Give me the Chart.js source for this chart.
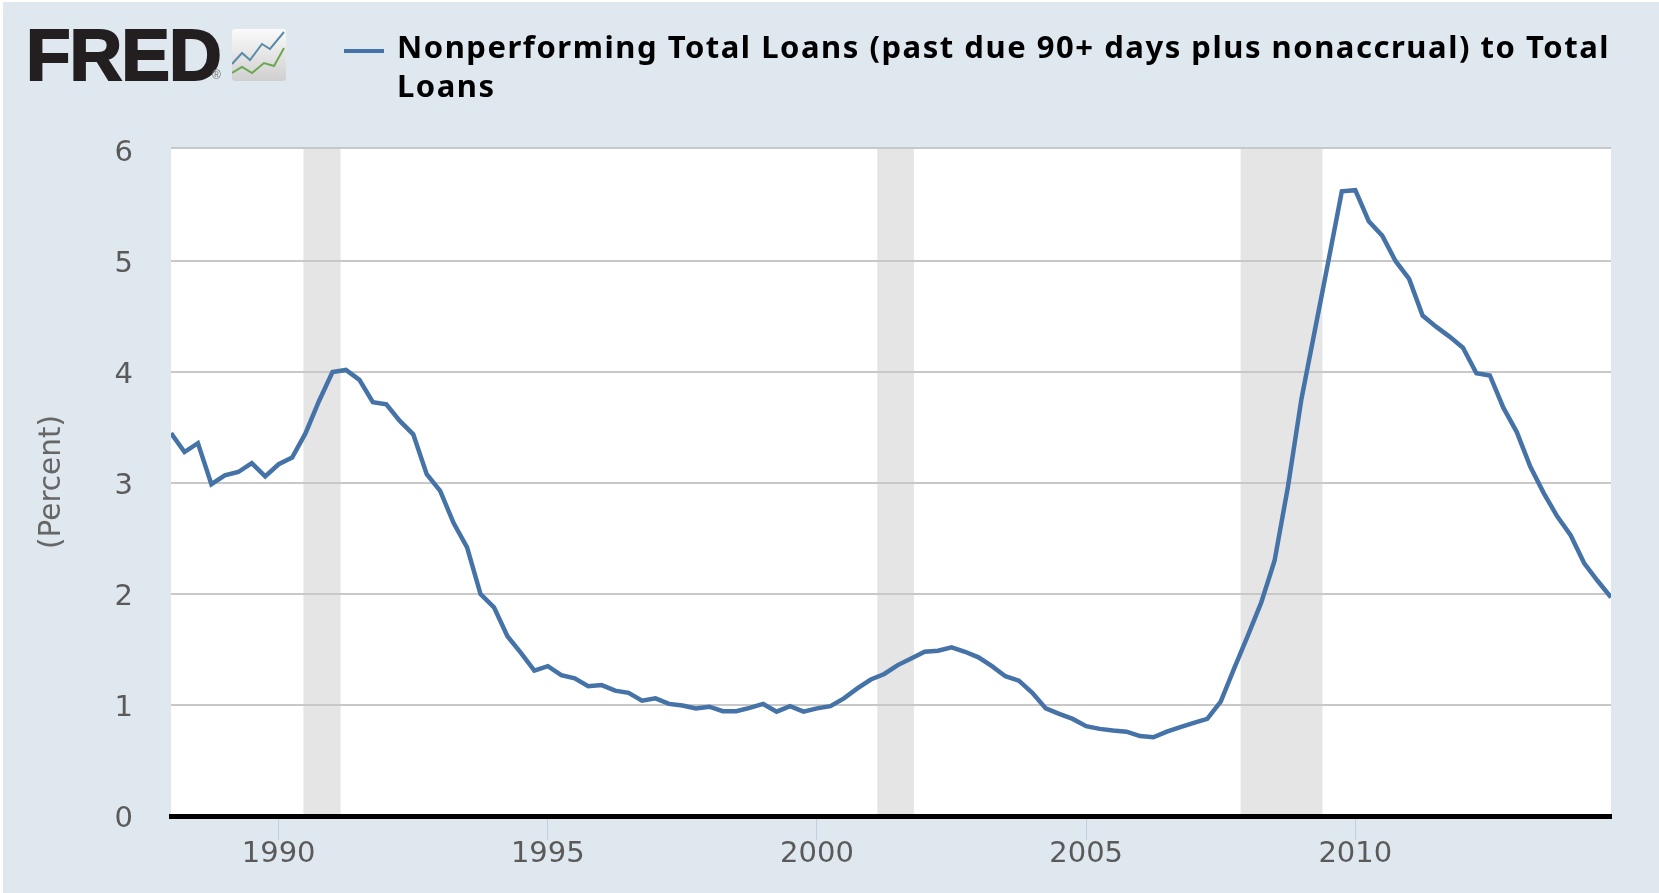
<!DOCTYPE html>
<html>
<head>
<meta charset="utf-8">
<title>Nonperforming Total Loans</title>
<script src="https://cdn.jsdelivr.net/npm/chart.js@4/dist/chart.umd.min.js"></script>
<style>
    html, body { margin: 0; padding: 0; background: #fff; width: 1659px; height: 893px; overflow: hidden; }
    #panel { position: absolute; left: 3px; top: 2px; width: 1656px; height: 891px; background: #dfe7ef; }
    #chart { position: absolute; left: 3px; top: 2px; }
    #fred { position: absolute; left: 26px; top: 13px; font: bold 73px "Liberation Sans", sans-serif; color: #231f20; letter-spacing: -1px; -webkit-text-stroke: 2px #231f20; }
    #reg { position: absolute; left: 212px; top: 68px; font: 12px "Liberation Sans", sans-serif; color: #777; }
    #logo { position: absolute; left: 232px; top: 29px; }
    #swatch { position: absolute; left: 344px; top: 49px; width: 40px; height: 4px; background: #4572a7; }
    #legend { position: absolute; left: 397px; top: 27px; width: 1225px; font: bold 31px/39px "Noto Sans", sans-serif; letter-spacing: 1.53px; color: #000; }
</style>
</head>
<body>
<div id="panel"></div>
<canvas id="chart" width="1656" height="891"></canvas>
<div id="fred">FRED</div>
<div id="reg">®</div>
<svg id="logo" width="54" height="52">
    <defs><linearGradient id="g" x1="0" y1="0" x2="0" y2="1"><stop offset="0" stop-color="#fbfbfb"/><stop offset="1" stop-color="#cfcfcf"/></linearGradient></defs>
    <rect width="54" height="52" rx="3" fill="url(#g)"/>
    <polyline points="0,35 10,24 18,31 30,15 38,20 52,3" fill="none" stroke="#5b8aa8" stroke-width="2"/>
    <polyline points="0,44 10,38 20,44 32,34 42,37 52,19" fill="none" stroke="#6aa84f" stroke-width="2"/>
</svg>
<div id="swatch"></div>
<div id="legend"></div>
<script>
var seriesLabel = "Nonperforming Total Loans (past due 90+ days plus nonaccrual) to Total Loans";
var axisTitle = "(Percent)";

var firstYear = 1988;
var xTicks = [1990, 1995, 2000, 2005, 2010];
var yTicks = [0, 1, 2, 3, 4, 5, 6];
// the top frame line sits a little above the 6 label
var yTop = 6.02;

// recession bands, in decimal years
var recessionStart = [1990.46, 2001.12, 2007.87];
var recessionEnd = [1991.15, 2001.8, 2009.39];

// quarterly values, 1988 Q1 to 2014 Q4
var loanValues = [
    3.45, 3.28, 3.36, 2.99, 3.07, 3.10, 3.18, 3.06,
    3.17, 3.23, 3.45, 3.74, 4.00, 4.02, 3.93, 3.73,
    3.71, 3.56, 3.44, 3.08, 2.93, 2.64, 2.42, 2.00,
    1.88, 1.62, 1.47, 1.31, 1.35, 1.27, 1.24, 1.17,
    1.18, 1.13, 1.11, 1.04, 1.06, 1.01, 0.995, 0.97,
    0.985, 0.945, 0.945, 0.975, 1.01, 0.94, 0.99, 0.94,
    0.97, 0.99, 1.06, 1.15, 1.23, 1.28, 1.36, 1.42,
    1.48, 1.49, 1.52, 1.48, 1.43, 1.35, 1.26, 1.22,
    1.11, 0.97, 0.92, 0.875, 0.81, 0.785, 0.77, 0.76,
    0.72, 0.71, 0.76, 0.80, 0.84, 0.875, 1.03, 1.33,
    1.62, 1.92, 2.30, 2.97, 3.76, 4.38, 5.00, 5.63,
    5.64, 5.36, 5.23, 5.00, 4.84, 4.51, 4.41, 4.32,
    4.22, 3.99, 3.97, 3.68, 3.46, 3.15, 2.91, 2.70,
    2.53, 2.28, 2.12, 1.97
];

var linePoints = [];
for (var i = 0; i < loanValues.length; i++) {
    linePoints.push({ x: firstYear + i / 4, y: loanValues[i] });
}

document.getElementById("legend").textContent = seriesLabel;

// white plot area and the grey recession bands, under the grid lines
var plotBackground = {
    id: "plotBackground",
    beforeDraw: function(chart) {
        var ctx = chart.ctx;
        var area = chart.chartArea;
        var xScale = chart.scales.x;
        ctx.save();
        ctx.fillStyle = "#fff";
        ctx.fillRect(area.left, area.top, area.right - area.left, area.bottom - area.top);
        ctx.fillStyle = "#e5e5e5";
        for (var r = 0; r < recessionStart.length; r++) {
            var x0 = xScale.getPixelForValue(recessionStart[r]);
            var x1 = xScale.getPixelForValue(recessionEnd[r]);
            ctx.fillRect(x0, area.top, x1 - x0, area.bottom - area.top);
        }
        ctx.restore();

        // y labels sit slightly below their grid lines
        chart.scales.y.getLabelItems().forEach(function(item) {
            item.options.translation[1] += 3.5;
        });
    }
};

new Chart(document.getElementById("chart"), {
    type: "line",
    data: {
        datasets: [{
            label: seriesLabel,
            data: linePoints,
            borderColor: "#4572a7",
            borderWidth: 4.5,
            pointRadius: 0,
            tension: 0
        }]
    },
    plugins: [plotBackground],
    options: {
        responsive: false,
        animation: false,
        devicePixelRatio: 1,
        layout: { padding: { left: 32, right: 48, top: 146, bottom: 0 } },
        plugins: { legend: { display: false }, tooltip: { enabled: false } },
        scales: {
            x: {
                type: "linear",
                min: firstYear,
                max: firstYear + (loanValues.length - 1) / 4,
                afterBuildTicks: function(scale) {
                    scale.ticks = xTicks.map(function(v) { return { value: v }; });
                },
                afterFit: function(scale) { scale.height = 77; },
                grid: { drawOnChartArea: false, drawTicks: true, tickLength: 24, tickColor: "#c0d0e0", tickWidth: 1 },
                border: { color: "#000", width: 5 },
                ticks: {
                    padding: -3,
                    maxRotation: 0,
                    autoSkip: false,
                    color: "#5a5a5a",
                    font: { family: "DejaVu Sans", size: 29 },
                    callback: function(v) { return String(v); }
                }
            },
            y: {
                min: 0,
                max: yTop,
                afterBuildTicks: function(scale) {
                    scale.ticks = yTicks.concat([yTop]).map(function(v) { return { value: v }; });
                },
                afterFit: function(scale) { scale.width = 136; },
                grid: {
                    color: function(c) { return c.tick.value === 6 ? "transparent" : "#c8c8c8"; },
                    lineWidth: 2,
                    drawTicks: false
                },
                border: { display: false },
                title: {
                    display: true,
                    text: axisTitle,
                    color: "#666",
                    font: { family: "DejaVu Sans", size: 29.5 },
                    padding: 0
                },
                ticks: {
                    padding: 38,
                    color: "#5a5a5a",
                    font: { family: "DejaVu Sans", size: 29 },
                    callback: function(v) { return v === yTop ? "" : String(v); }
                }
            }
        }
    }
});
</script>
</body>
</html>
